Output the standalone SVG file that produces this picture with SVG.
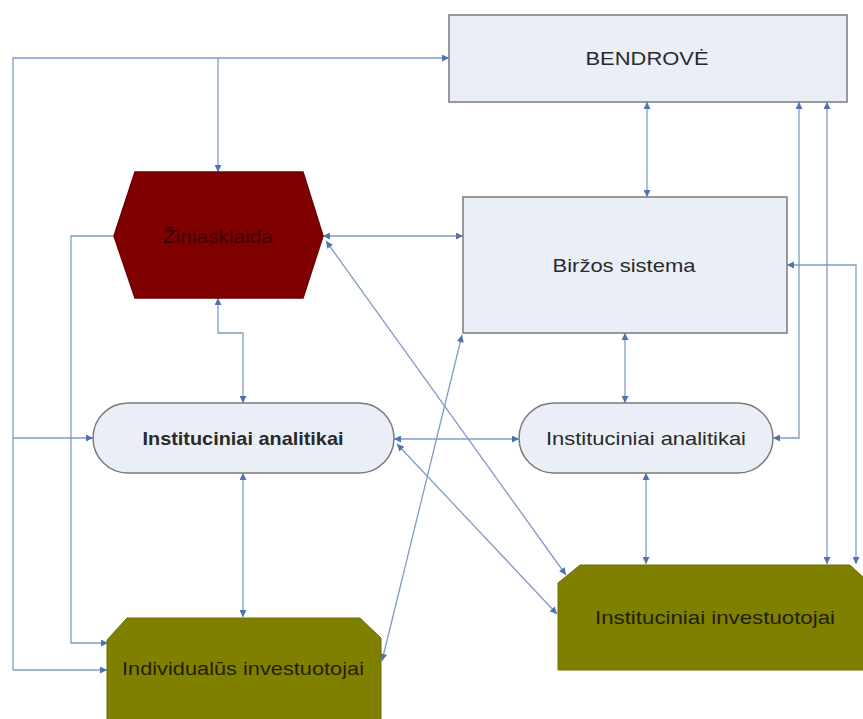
<svg xmlns="http://www.w3.org/2000/svg" width="863" height="719" viewBox="0 0 863 719">
<defs>
<style>
.box{fill:#e9eef7;stroke:#7a7a7a;stroke-width:1.5}
.c{fill:none;stroke:#7f9bc8;stroke-width:1.3;marker-end:url(#ar)}
.b{marker-start:url(#ar)}
.t{font-family:"Liberation Sans",Arial,sans-serif;font-size:19px;fill:#2a2a2a;text-anchor:middle}
</style>
<marker id="ar" viewBox="0 0 10 10" refX="10" refY="5" markerWidth="8" markerHeight="7" markerUnits="userSpaceOnUse" orient="auto-start-reverse">
<path d="M0,0 L10,5 L0,10 z" fill="#4f72b0"/>
</marker>
</defs>
<rect width="863" height="719" fill="#ffffff"/>
<g id="connectors">
<path class="c" d="M13,670 L13,58 L449,58"/>
<path class="c" d="M218,58 L218,172"/>
<path class="c" d="M13,438 L93,438"/>
<path class="c" d="M13,670 L107,670"/>
<path class="c" d="M114,236 L71,236 L71,643 L108,643"/>
<path class="c b" d="M218,298 L218,333 L243,333 L243,403"/>
<path class="c b" d="M243,473 L243,617"/>
<path class="c b" d="M323,236 L463,236"/>
<path class="c b" d="M647,102 L647,197"/>
<path class="c b" d="M625,333 L625,403"/>
<path class="c b" d="M646,473 L646,564"/>
<path class="c b" d="M394,439 L519,439"/>
<path class="c b" d="M799,102 L799,438 L773,438"/>
<path class="c b" d="M827,102 L827,564"/>
<path class="c b" d="M787,265 L856,265 L856,564"/>
<path class="c b" d="M326,241 L566,575"/>
<path class="c b" d="M397,444 L557,614"/>
<path class="c b" d="M382,661 L462,335"/>
</g>
<g id="bendrove">
<rect class="box" x="449" y="15" width="398" height="87"/>
<text class="t" x="647" y="65" textLength="123" lengthAdjust="spacingAndGlyphs">BENDROVĖ</text>
</g>
<g id="birzos">
<rect class="box" x="463" y="197" width="324" height="136"/>
<text class="t" x="624" y="272" textLength="143" lengthAdjust="spacingAndGlyphs">Biržos sistema</text>
</g>
<g id="ziniasklaida">
<polygon points="114,236 135,172 303,172 323,236 303,298 135,298" fill="#800000" stroke="#6a0000" stroke-width="1.5"/>
<text class="t" x="218" y="243" fill="#3a0000" style="fill:#3a0000" textLength="110" lengthAdjust="spacingAndGlyphs">Žiniasklaida</text>
</g>
<g id="analitikai-left">
<rect class="box" x="93" y="403" width="301" height="70" rx="35" ry="35"/>
<text class="t" x="243" y="445" font-weight="bold" textLength="201" lengthAdjust="spacingAndGlyphs">Instituciniai analitikai</text>
</g>
<g id="analitikai-right">
<rect class="box" x="519" y="403" width="254" height="70" rx="35" ry="35"/>
<text class="t" x="646" y="445" textLength="200" lengthAdjust="spacingAndGlyphs">Instituciniai analitikai</text>
</g>
<g id="individualus">
<polygon points="107,640 127,618 360,618 381,638 381,725 107,725" fill="#808000" stroke="#6f6f00" stroke-width="1"/>
<text class="t" x="243" y="675" style="fill:#1f1f00" textLength="242" lengthAdjust="spacingAndGlyphs">Individualūs investuotojai</text>
</g>
<g id="instituciniai-investuotojai">
<polygon points="558,583 580,565 850,565 864,578 864,670 558,670" fill="#808000" stroke="#6f6f00" stroke-width="1"/>
<text class="t" x="715" y="624" style="fill:#1f1f00" textLength="240" lengthAdjust="spacingAndGlyphs">Instituciniai investuotojai</text>
</g>
</svg>
